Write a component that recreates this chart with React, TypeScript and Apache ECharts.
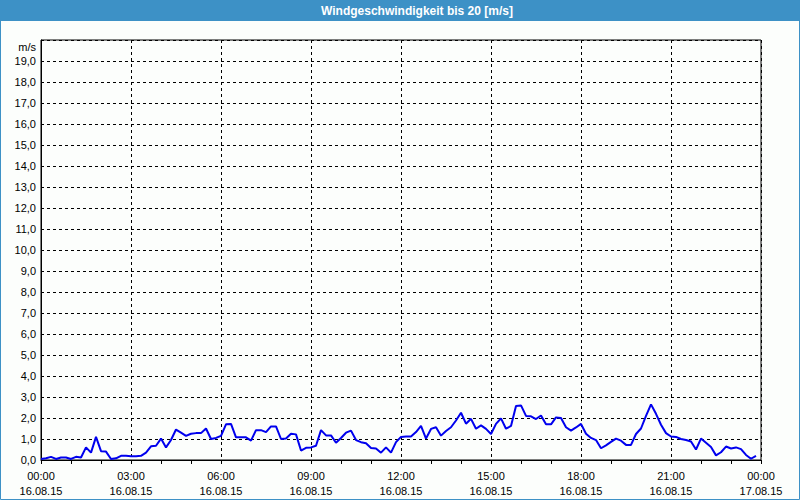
import React, { useEffect, useRef } from "react";
import * as echarts from "echarts";

const TITLE = "Windgeschwindigkeit bis 20 [m/s]";
const UNIT = "m/s";
const DATE_DAY1 = "16.08.15";
const DATE_DAY2 = "17.08.15";
const STEP_MINUTES = 10;

// wind speed [m/s], 10-minute samples, 00:00 - 05:50
const speeds00to06 = [
  0.05, 0.08, 0.15, 0.05, 0.12, 0.12, 0.05, 0.15, 0.12, 0.6, 0.35, 1.1,
  0.42, 0.4, 0.05, 0.08, 0.2, 0.2, 0.18, 0.18, 0.2, 0.35, 0.65, 0.68,
  1.02, 0.6, 0.95, 1.45, 1.3, 1.15, 1.25, 1.28, 1.28, 1.5, 1.0, 1.05,
];
// 06:00 - 11:50
const speeds06to12 = [
  1.15, 1.7, 1.72, 1.08, 1.08, 1.08, 0.92, 1.42, 1.42, 1.33, 1.6, 1.6,
  1.0, 1.02, 1.25, 1.22, 0.45, 0.58, 0.6, 0.68, 1.42, 1.17, 1.17, 0.82,
  1.05, 1.3, 1.4, 0.95, 0.85, 0.8, 0.57, 0.55, 0.35, 0.6, 0.35, 0.85,
];
// 12:00 - 17:50
const speeds12to18 = [
  1.1, 1.12, 1.12, 1.33, 1.62, 1.02, 1.48, 1.56, 1.16, 1.38, 1.56, 1.88,
  2.25, 1.73, 1.96, 1.49, 1.65, 1.48, 1.24, 1.72, 1.98, 1.49, 1.62, 2.57,
  2.6, 2.1, 2.08, 1.95, 2.12, 1.7, 1.7, 2.03, 2.0, 1.56, 1.4, 1.55,
];
// 18:00 - 23:50
const speeds18to24 = [
  1.72, 1.25, 1.05, 0.95, 0.56, 0.7, 0.86, 1.02, 0.92, 0.72, 0.72, 1.24,
  1.5, 2.1, 2.65, 2.2, 1.68, 1.28, 1.12, 1.1, 1.0, 0.95, 0.88, 0.5,
  1.02, 0.82, 0.62, 0.22, 0.37, 0.64, 0.55, 0.6, 0.52, 0.24, 0.06, 0.2,
];

const speeds = [...speeds00to06, ...speeds06to12, ...speeds12to18, ...speeds18to24];

const FONT = "Liberation Sans";

export default function App() {
  const ref = useRef<HTMLDivElement>(null);

  useEffect(() => {
    if (!ref.current) return;
    const chart = echarts.init(ref.current, undefined, { renderer: "svg" });
    const data = speeds.map((v, i) => [i * STEP_MINUTES, v]);
    const pad = (n: number) => (n < 10 ? "0" + n : "" + n);

    chart.setOption({
      animation: false,
      backgroundColor: "#fcfefc",
      grid: {
        left: 41,
        top: 40,
        right: 39,
        bottom: 40,
        show: true,
        borderColor: "#000",
        borderWidth: 1,
        backgroundColor: "transparent",
      },
      graphic: [
        {
          type: "rect",
          shape: { x: 0, y: 0, width: 800, height: 21 },
          style: { fill: "#3d91c6" },
          z: 1,
        },
        {
          type: "rect",
          shape: { x: 0.5, y: 0.5, width: 799, height: 499 },
          style: { fill: "none", stroke: "#3d91c6", lineWidth: 1 },
          z: 1,
        },
        {
          type: "text",
          x: 417,
          y: 11,
          style: {
            text: TITLE,
            fill: "#ffffff",
            font: `bold 12px "${FONT}"`,
            textAlign: "center",
            textVerticalAlign: "middle",
          },
          z: 2,
        },
        {
          type: "text",
          x: 36,
          y: 47,
          style: {
            text: UNIT,
            fill: "#000",
            font: `11px "${FONT}"`,
            textAlign: "right",
            textVerticalAlign: "middle",
          },
          z: 2,
        },
      ],
      xAxis: {
        type: "value",
        min: 0,
        max: 1440,
        interval: 180,
        axisLine: { show: true, lineStyle: { color: "#000", width: 1 } },
        axisTick: { show: true, length: 4, lineStyle: { color: "#000" } },
        minorTick: { show: true, splitNumber: 3, length: 4, lineStyle: { color: "#000" } },
        splitLine: { show: true, lineStyle: { color: "#000", type: [3, 3], width: 1 } },
        axisLabel: {
          color: "#000",
          fontFamily: FONT,
          fontSize: 11,
          lineHeight: 15,
          margin: 8,
          showMaxLabel: true,
          showMinLabel: true,
          formatter: (v: number) => {
            const h = Math.floor(v / 60) % 24;
            return pad(h) + ":00\n" + (v >= 1440 ? DATE_DAY2 : DATE_DAY1);
          },
        },
      },
      yAxis: {
        type: "value",
        min: 0,
        max: 20,
        interval: 1,
        axisLine: { show: true, lineStyle: { color: "#000", width: 1 } },
        axisTick: { show: false },
        splitLine: { show: true, lineStyle: { color: "#000", type: [3, 3], width: 1 } },
        axisLabel: {
          color: "#000",
          fontFamily: FONT,
          fontSize: 11,
          margin: 5,
          formatter: (v: number) => (v >= 20 ? "" : v.toFixed(1).replace(".", ",")),
        },
      },
      series: [
        {
          type: "line",
          data,
          showSymbol: false,
          symbol: "none",
          lineStyle: { color: "#0000ee", width: 2 },
          z: 5,
        },
      ],
    });

    return () => chart.dispose();
  }, []);

  return (
    <div
      ref={ref}
      style={{ position: "fixed", left: 0, top: 0, width: 800, height: 500 }}
    />
  );
}
